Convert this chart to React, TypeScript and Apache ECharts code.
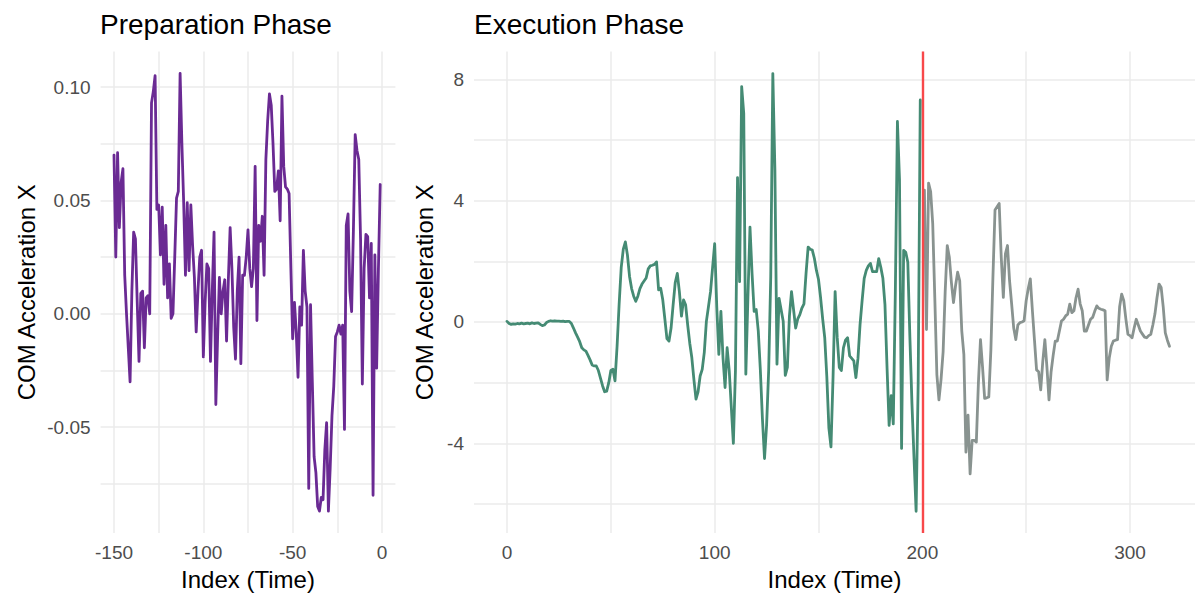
import React, { useEffect, useRef } from "react";
import * as echarts from "echarts";

// ---------- Preparation phase (index -150 .. -1) ----------
const prepStart = -150;
const prepValues = [
  0.070, 0.025, 0.071, 0.038, 0.058, 0.064, 0.017, 0.000, -0.015, -0.030,
  0.010, 0.036, 0.033, 0.005, -0.021, 0.009, 0.010, -0.015, 0.007, 0.008,
  0.000, 0.093, 0.098, 0.105, 0.046, 0.048, 0.026, 0.047, 0.013, 0.039,
  0.007, 0.022, -0.002, 0.000, 0.025, 0.051, 0.054, 0.106, 0.075, 0.049,
  0.017, 0.049, 0.019, 0.048, 0.030, 0.016, -0.008, 0.010, 0.025, 0.028,
  -0.019, 0.005, 0.022, 0.020, -0.021, 0.010, 0.036, -0.040, -0.010, 0.016,
  0.000, 0.010, 0.015, -0.012, 0.015, 0.038, 0.020, -0.006, -0.020, 0.010,
  0.025, -0.022, 0.017, 0.017, 0.025, 0.037, 0.020, 0.012, 0.020, 0.065,
  -0.003, 0.039, 0.032, 0.043, 0.017, 0.068, 0.085, 0.097, 0.092, 0.075,
  0.054, 0.055, 0.063, 0.041, 0.096, 0.065, 0.056, 0.055, 0.053, 0.020,
  -0.011, 0.005, -0.008, -0.028, 0.003, -0.005, 0.028, 0.010, 0.003, -0.077,
  0.004, -0.030, -0.063, -0.070, -0.085, -0.087, -0.081, -0.082, -0.060, -0.048,
  -0.087, -0.068, -0.045, -0.032, -0.010, -0.008, -0.005, -0.009, -0.005, -0.051,
  0.039, 0.044, 0.010, 0.001, 0.037, 0.079, 0.072, 0.068, 0.033, -0.031,
  0.020, 0.035, 0.034, 0.007, 0.031, -0.080, 0.026, -0.024, 0.020, 0.057,
];

// ---------- Execution phase: before transition (index 0 .. 199) ----------
const execStart = 0;
const execBefore = [
  0.02, -0.05, -0.08, -0.06, -0.07, -0.05, -0.06, -0.04, -0.06, -0.05,
  -0.04, -0.06, -0.03, -0.05, -0.04, -0.03, -0.08, -0.12, -0.10, -0.02,
  0.02, 0.04, 0.03, 0.04, 0.03, 0.03, 0.02, 0.03, 0.01, 0.02,
  0.02, -0.05, -0.2, -0.36, -0.5, -0.65, -0.85, -0.92, -0.96, -1.1,
  -1.25, -1.42, -1.45, -1.45, -1.6, -1.85, -2.1, -2.3, -2.28, -2.0,
  -1.6, -1.56, -1.94, -0.8, 0.6, 1.8, 2.4, 2.64, 2.2, 1.5,
  1.1, 0.85, 0.68, 0.85, 1.1, 1.25, 1.35, 1.45, 1.75, 1.85,
  1.87, 1.9, 1.98, 1.06, 1.11, 0.73, 0.1, -0.55, -0.63, -0.2,
  0.57, 1.3, 1.6, 1.0, 0.19, 0.73, 0.57, -0.1, -0.7, -1.18,
  -1.9, -2.54, -2.3, -1.78, -1.56, -1.0, 0.02, 0.5, 1.0, 1.8,
  2.58, 0.5, -1.07, 0.35, -1.18, -2.16, -0.85, -1.6, -2.8, -4.0,
  -1.6, 4.76, 1.33, 7.76, 6.88, -1.72, 0.8, 3.13, 1.6, 0.35,
  0.41, -0.3, -1.6, -3.2, -4.5, -3.4, -1.6, 1.5, 8.19, 5.0,
  -1.39, 0.78, 0.4, 0.02, -1.76, -1.5, 0.2, 1.0, 0.4, -0.2,
  0.1, 0.24, 0.46, 0.6, 1.6, 2.47, 2.4, 2.37, 2.1, 1.7,
  1.4, 0.8, 0.1, -0.52, -1.8, -3.5, -4.12, -1.82, 1.0, -0.5,
  -1.5, -1.6, -0.85, -0.6, -0.52, -1.12, -1.2, -1.28, -1.83, -1.2,
  -0.09, 0.7, 1.44, 1.7, 1.85, 1.93, 1.66, 1.66, 1.66, 2.09,
  1.8, 1.44, 0.57, -1.5, -3.41, -2.43, -3.36, 1.0, 6.61, 4.7,
  -4.17, 2.36, 2.3, 1.97, -0.5, -2.7, -4.5, -6.24, -2.0, 7.32,
];

// ---------- Execution phase: after transition (index 201 .. 319) ----------
const afterStart = 201;
const execAfter = [
  4.35, -0.25, 4.58, 4.3, 3.24, 0.8, -1.74, -2.57, -1.9, -0.99,
  1.0, 2.52, 2.13, 1.3, 0.64, 1.2, 1.64, 1.36, -0.3, -1.08,
  -4.29, -3.07, -5.01, -3.9, -3.9, -3.96, -2.0, -0.58, -1.5, -2.52,
  -2.5, -2.47, -0.93, 1.5, 3.69, 3.8, 3.91, 2.13, 0.81, 2.25,
  2.52, 1.36, 0.6, -0.2, -0.58, -0.1, -0.02, 0.0, 0.04, 0.70,
  1.1, 1.42, 0.37, -0.6, -1.58, -1.64, -2.24, -1.3, -0.58, -1.5,
  -2.57, -1.64, -1.1, -0.63, -0.63, -0.3, 0.03, 0.09, 0.2, 0.26,
  0.59, 0.31, 0.37, 0.8, 1.08, 0.6, 0.37, -0.30, -0.30, -0.1,
  0.09, 0.15, 0.35, 0.53, 0.45, 0.42, 0.40, 0.37, -1.91, -1.19,
  -0.8, -0.63, -0.6, -0.58, 0.5, 0.92, 0.70, 0.1, -0.41, -0.45,
  -0.52, -0.2, 0.09, -0.1, -0.30, -0.4, -0.5, -0.52, -0.45, -0.41,
  -0.1, 0.26, 0.8, 1.25, 1.14, 0.5, -0.36, -0.6, -0.80,
];

const transitionIndex = 200;

// ---------- Ticks / gridlines ----------
const prepXMajor = [-150, -100, -50, 0];
const prepXMinor = [-125, -75, -25];
const prepYMajor = [-0.05, 0, 0.05, 0.1];
const prepYMinor = [-0.075, -0.025, 0.025, 0.075];
const execXMajor = [0, 100, 200, 300];
const execXMinor = [50, 150, 250];
const execYMajor = [-4, 0, 4, 8];
const execYMinor = [-6, -2, 2, 6];

const FONT = "'Liberation Sans', Arial, Helvetica, sans-serif";
const GRID_COLOR = "#EBEBEB";
const LABEL_COLOR = "#4D4D4D";

function App() {
  const ref = useRef<HTMLDivElement>(null);

  useEffect(() => {
    if (!ref.current) return;
    const chart = echarts.init(ref.current, null, { renderer: "svg" });

    const prepData = prepValues.map((v, i) => [prepStart + i, v]);
    const beforeData = execBefore.map((v, i) => [execStart + i, v]);
    const afterData = execAfter.map((v, i) => [afterStart + i, v]);

    const axisCommon = (major: number[], minor: number[], fmt: (v: number) => string) => ({
      type: "value",
      axisLine: { show: false },
      axisTick: { show: false, customValues: [...major, ...minor].sort((a, b) => a - b) },
      axisLabel: {
        customValues: major,
        formatter: (v: number) => fmt(v),
        color: LABEL_COLOR,
        fontSize: 19,
        fontFamily: FONT,
        margin: 10,
      },
      splitLine: { show: true, lineStyle: { color: GRID_COLOR, width: 1.5 } },
      nameTextStyle: { fontSize: 24, color: "#000", fontFamily: FONT },
    });

    const option: any = {
      animation: false,
      backgroundColor: "#fff",
      textStyle: { fontFamily: FONT },
      title: [
        {
          text: "Preparation Phase",
          left: 100,
          top: 10,
          padding: 0,
          textStyle: { fontSize: 28, fontWeight: "normal", color: "#000", fontFamily: FONT },
        },
        {
          text: "Execution Phase",
          left: 474,
          top: 10,
          padding: 0,
          textStyle: { fontSize: 28, fontWeight: "normal", color: "#000", fontFamily: FONT },
        },
      ],
      grid: [
        { left: 100.6, top: 51.4, width: 294.8, height: 485.6, containLabel: false },
        { left: 474, top: 51.4, width: 721, height: 485.6, containLabel: false },
      ],
      xAxis: [
        {
          ...axisCommon(prepXMajor, prepXMinor, (v) => String(v)),
          gridIndex: 0,
          min: -157.5,
          max: 7.5,
          name: "Index (Time)",
          nameLocation: "middle",
          nameGap: 32,
        },
        {
          ...axisCommon(execXMajor, execXMinor, (v) => String(v)),
          gridIndex: 1,
          min: -15.9,
          max: 331.3,
          name: "Index (Time)",
          nameLocation: "middle",
          nameGap: 32,
        },
      ],
      yAxis: [
        {
          ...axisCommon(prepYMajor, prepYMinor, (v) => v.toFixed(2)),
          gridIndex: 0,
          min: -0.0967,
          max: 0.1157,
          name: "COM Acceleration X",
          nameLocation: "middle",
          nameGap: 62,
        },
        {
          ...axisCommon(execYMajor, execYMinor, (v) => String(v)),
          gridIndex: 1,
          min: -6.96,
          max: 8.92,
          name: "COM Acceleration X",
          nameLocation: "middle",
          nameGap: 38,
        },
      ],
      series: [
        {
          type: "line",
          xAxisIndex: 0,
          yAxisIndex: 0,
          data: prepData,
          showSymbol: false,
          lineStyle: { color: "#6A2A93", width: 2.8, join: "round", cap: "round" },
          z: 2,
        },
        {
          type: "line",
          xAxisIndex: 1,
          yAxisIndex: 1,
          data: beforeData,
          showSymbol: false,
          lineStyle: { color: "#458B74", width: 2.8, join: "round", cap: "round" },
          z: 2,
        },
        {
          type: "line",
          xAxisIndex: 1,
          yAxisIndex: 1,
          data: afterData,
          showSymbol: false,
          lineStyle: { color: "#899390", width: 2.8, join: "round", cap: "round" },
          z: 3,
          markLine: {
            silent: true,
            symbol: ["none", "none"],
            label: { show: false },
            lineStyle: { color: "#F8484A", width: 2.4, type: "solid" },
            data: [{ xAxis: transitionIndex }],
          },
        },
      ],
    };

    chart.setOption(option);
    return () => chart.dispose();
  }, []);

  return (
    <div
      ref={ref}
      style={{ position: "absolute", left: 0, top: 0, width: 1195, height: 596, background: "#fff" }}
    />
  );
}

export default App;
